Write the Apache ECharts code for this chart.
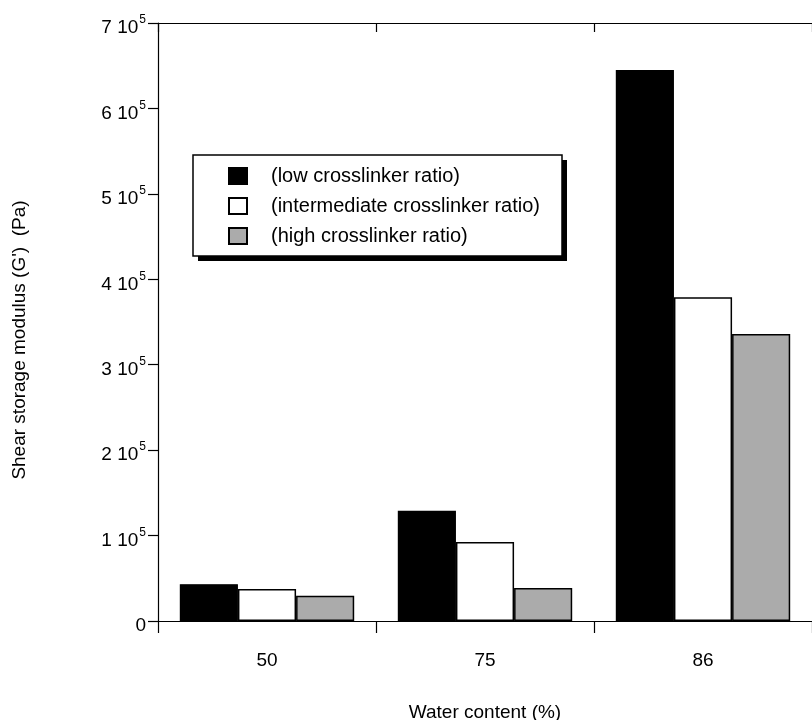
<!DOCTYPE html>
<html>
<head>
<meta charset="utf-8">
<script src="https://cdn.jsdelivr.net/npm/echarts@6/dist/echarts.min.js"></script>
<style>html,body{margin:0;padding:0;background:#fff}#c{width:812px;height:720px}</style>
</head>
<body>
<div id="c"></div>
<script>
const categories = ['50', '75', '86'];
const seriesNames = ['(low crosslinker ratio)', '(intermediate crosslinker ratio)', '(high crosslinker ratio)'];
const lowRatio = [43000, 129000, 645000];
const intermediateRatio = [37500, 92500, 379000];
const highRatio = [29500, 38500, 336000];
const yTickMantissa = ['0', '1', '2', '3', '4', '5', '6', '7'];

const chart = echarts.init(document.getElementById('c'));
const font = 'Liberation Sans, Arial, sans-serif';
const barBase = {
  type: 'bar',
  barGap: '0%',
  barCategoryGap: '20%',
  xAxisIndex: 0,
  yAxisIndex: 0
};
chart.setOption({
  animation: false,
  backgroundColor: '#fff',
  textStyle: { fontFamily: font, color: '#000' },
  grid: { left: 158, right: 0, top: 23, bottom: 99, containLabel: false, outerBoundsMode: 'none' },
  graphic: [
    { type: 'rect', z: 3, shape: { x: 198, y: 160, width: 369, height: 101 }, style: { fill: '#000' } },
    { type: 'rect', z: 4, shape: { x: 193, y: 155, width: 369, height: 101 }, style: { fill: '#fff', stroke: '#000', lineWidth: 1.5 } }
  ],
  legend: {
    z: 10,
    orient: 'vertical',
    left: 228,
    top: 166,
    padding: 0,
    itemGap: 10,
    itemWidth: 18,
    itemHeight: 16,
    icon: 'rect',
    textStyle: { fontSize: 20, lineHeight: 20, color: '#000', fontFamily: font, padding: [0, 0, 0, 19] },
    data: seriesNames
  },
  xAxis: [{
    type: 'category',
    data: categories,
    position: 'bottom',
    boundaryGap: true,
    axisLine: { show: true, lineStyle: { color: '#000', width: 1.2 } },
    axisTick: { show: true, inside: false, length: 12, alignWithLabel: false, lineStyle: { color: '#000', width: 1.2 } },
    axisLabel: { fontSize: 19, color: '#000', margin: 30, fontFamily: font },
    name: 'Water content (%)',
    nameLocation: 'middle',
    nameGap: 82,
    nameTextStyle: { fontSize: 19, color: '#000', fontFamily: font }
  }, {
    type: 'category',
    data: categories,
    position: 'top',
    boundaryGap: true,
    axisLine: { show: true, lineStyle: { color: '#000', width: 1.2 } },
    axisTick: { show: true, inside: true, length: 9, alignWithLabel: false, lineStyle: { color: '#000', width: 1.2 } },
    axisLabel: { show: false }
  }],
  yAxis: {
    type: 'value',
    min: 0,
    max: 700000,
    interval: 100000,
    splitLine: { show: false },
    axisLine: { show: true, lineStyle: { color: '#000', width: 1.2 } },
    axisTick: { show: true, inside: false, length: 10, lineStyle: { color: '#000', width: 1.2 } },
    axisLabel: {
      margin: 12,
      color: '#000',
      padding: [10, 0, 0, 0],
      formatter: function (v) {
        const i = Math.round(v / 100000);
        if (i === 0) return '{a|0}';
        return '{a|' + yTickMantissa[i] + ' 10}{s|5}';
      },
      rich: {
        a: { fontSize: 19, color: '#000', fontFamily: font },
        s: { fontSize: 12, color: '#000', fontFamily: font, padding: [0, 0, 16, 1] }
      }
    },
    name: "Shear storage modulus (G')  (Pa)",
    nameLocation: 'middle',
    nameGap: 129,
    nameRotate: 90,
    nameTextStyle: { fontSize: 19, color: '#000', fontFamily: font, padding: [0, 36, 0, 0] }
  },
  series: [
    Object.assign({}, barBase, { name: seriesNames[0], data: lowRatio, itemStyle: { color: '#000', borderColor: '#000', borderWidth: 1.2 } }),
    Object.assign({}, barBase, { name: seriesNames[1], data: intermediateRatio, itemStyle: { color: '#fff', borderColor: '#000', borderWidth: 1.5 } }),
    Object.assign({}, barBase, { name: seriesNames[2], data: highRatio, itemStyle: { color: '#ababab', borderColor: '#000', borderWidth: 1.5 } })
  ]
});
</script>
</body>
</html>
